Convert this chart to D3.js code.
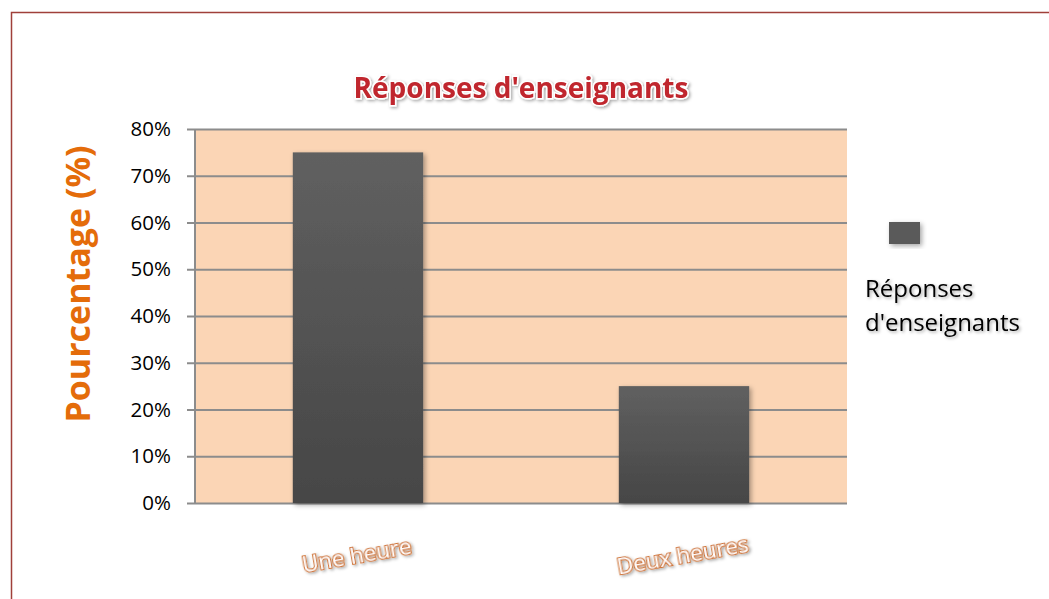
<!DOCTYPE html>
<html>
<head>
<meta charset="utf-8">
<script src="https://cdn.jsdelivr.net/npm/d3@7"></script>
<style>
  body { margin: 0; background: #fff; }
  svg { display: block; }
</style>
</head>
<body>
<svg width="1049" height="599"></svg>
<script>
// chart data
var categories = ["Une heure", "Deux heures"];
var values = [75, 25];
var seriesName = "Réponses d'enseignants";
var yTicks = [0, 10, 20, 30, 40, 50, 60, 70, 80];

var svg = d3.select("svg"),
    width = +svg.attr("width"),
    height = +svg.attr("height");

var margin = {left: 195, right: 202, top: 129, bottom: 96};
var plotW = width - margin.left - margin.right,
    plotH = height - margin.top - margin.bottom;

var defs = svg.append("defs");
var grad = defs.append("linearGradient")
    .attr("id", "barGrad")
    .attr("x1", 0).attr("y1", 0).attr("x2", 0).attr("y2", 1);
grad.append("stop").attr("offset", "0%").attr("stop-color", "#606060");
grad.append("stop").attr("offset", "100%").attr("stop-color", "#464646");

var shadow = defs.append("filter").attr("id", "shadow")
    .attr("x", "-20%").attr("y", "-20%").attr("width", "140%").attr("height", "140%");
shadow.append("feDropShadow").attr("dx", 2).attr("dy", 2)
    .attr("stdDeviation", 2.5).attr("flood-color", "#000").attr("flood-opacity", 0.35);

var txtShadow = defs.append("filter").attr("id", "txtShadow")
    .attr("x", "-10%").attr("y", "-30%").attr("width", "120%").attr("height", "160%");
txtShadow.append("feDropShadow").attr("dx", 1.5).attr("dy", 1.5)
    .attr("stdDeviation", 1.5).attr("flood-color", "#000").attr("flood-opacity", 0.35);

// outer border (only top and left are visible in the picture)
svg.append("path")
    .attr("d", "M11.5," + height + "V12.5H" + width)
    .attr("fill", "none")
    .attr("stroke", "#a0403a")
    .attr("stroke-width", 1.5);

var g = svg.append("g").attr("transform", "translate(" + margin.left + "," + margin.top + ")");

var x = d3.scaleBand()
    .domain(categories)
    .range([0, plotW])
    .paddingInner(0.6)
    .paddingOuter(0.3);

var y = d3.scaleLinear()
    .domain([0, 80])
    .range([plotH, 0]);

// plot background
g.append("rect")
    .attr("width", plotW)
    .attr("height", plotH)
    .attr("fill", "#fbd5b5");

// gridlines + ticks
var yAxis = d3.axisLeft(y)
    .tickValues(yTicks)
    .tickSize(-plotW)
    .tickPadding(24)
    .tickFormat(function(d) { return d + "%"; });

var ya = g.append("g").call(yAxis);
ya.select(".domain").remove();
ya.selectAll(".tick line")
    .attr("x1", -8)
    .attr("stroke", "#8c8c8c")
    .attr("stroke-width", 2);
ya.selectAll(".tick text")
    .attr("font-family", "'Open Sans', sans-serif")
    .attr("font-size", 20.5)
    .attr("fill", "#000");

g.append("line")
    .attr("x1", 0).attr("x2", 0)
    .attr("y1", 0).attr("y2", plotH)
    .attr("stroke", "#8c8c8c")
    .attr("stroke-width", 2);

// bars
g.selectAll(".bar")
    .data(values)
    .enter()
    .append("rect")
    .attr("class", "bar")
    .attr("x", function(d, i) { return x(categories[i]); })
    .attr("y", function(d) { return y(d); })
    .attr("width", x.bandwidth())
    .attr("height", function(d) { return plotH - y(d); })
    .attr("fill", "url(#barGrad)")
    .attr("filter", "url(#shadow)");

// category labels, tilted, orange outline
g.selectAll(".cat")
    .data(categories)
    .enter()
    .append("text")
    .attr("class", "cat")
    .attr("transform", function(d) {
        return "translate(" + (x(d) + x.bandwidth() / 2) + "," + (plotH + 60) + ") rotate(-10)";
    })
    .attr("text-anchor", "middle")
    .attr("font-family", "'Open Sans', sans-serif")
    .attr("font-size", 22.5)
    .attr("fill", "#fff")
    .attr("stroke", "#d0773a")
    .attr("stroke-width", 2.2)
    .attr("paint-order", "stroke")
    .attr("filter", "url(#txtShadow)")
    .text(function(d) { return d; });

// title
svg.append("text")
    .attr("x", margin.left + plotW / 2)
    .attr("y", 98)
    .attr("text-anchor", "middle")
    .attr("font-family", "'Open Sans', sans-serif")
    .attr("font-weight", "bold")
    .attr("font-size", 28)
    .attr("fill", "#c0272d")
    .attr("stroke", "#fff")
    .attr("stroke-width", 3)
    .attr("paint-order", "stroke")
    .attr("filter", "url(#txtShadow)")
    .text(seriesName);

// y axis title
svg.append("text")
    .attr("transform", "translate(90,284) rotate(-90)")
    .attr("text-anchor", "middle")
    .attr("font-family", "'Open Sans', sans-serif")
    .attr("font-weight", "bold")
    .attr("font-size", 34)
    .attr("fill", "#e46c0a")
    .text("Pourcentage (%)");

// legend
svg.append("rect")
    .attr("x", 889).attr("y", 222)
    .attr("width", 31).attr("height", 22)
    .attr("fill", "#5a5a5a")
    .attr("filter", "url(#shadow)");

var legText = svg.append("text")
    .attr("font-family", "'Open Sans', sans-serif")
    .attr("font-size", 24)
    .attr("fill", "#000")
    .attr("filter", "url(#txtShadow)");
legText.append("tspan").attr("x", 865).attr("y", 297).text("Réponses");
legText.append("tspan").attr("x", 865).attr("y", 331).text("d'enseignants");
</script>
</body>
</html>
